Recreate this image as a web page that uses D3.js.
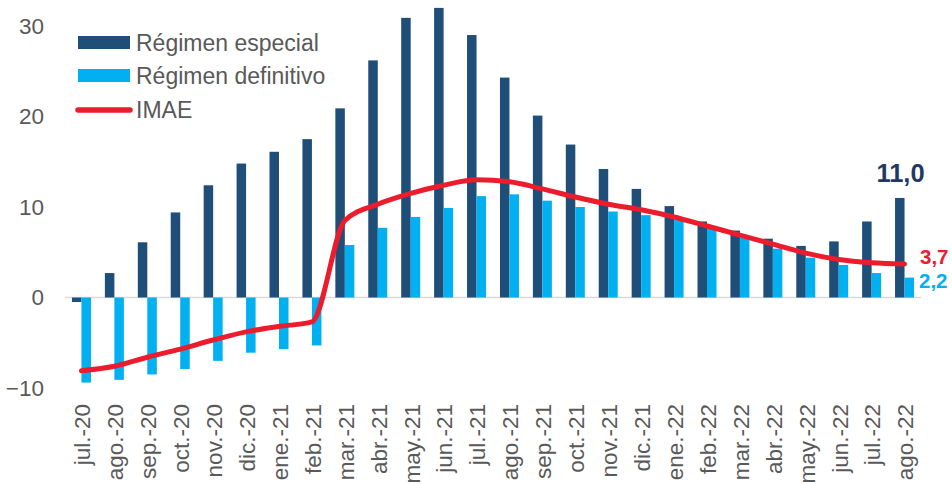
<!DOCTYPE html>
<html>
<head>
<meta charset="utf-8">
<script src="https://cdn.jsdelivr.net/npm/d3@7/dist/d3.min.js"></script>
<style>
  html, body { margin: 0; padding: 0; background: #fff; }
  svg { display: block; font-family: "Liberation Sans", Arial, sans-serif; }
</style>
</head>
<body>
<svg id="chart" width="952" height="484"></svg>
<script>
const categories = ["jul.-20","ago.-20","sep.-20","oct.-20","nov.-20","dic.-20","ene.-21","feb.-21","mar.-21","abr.-21","may.-21","jun.-21","jul.-21","ago.-21","sep.-21","oct.-21","nov.-21","dic.-21","ene.-22","feb.-22","mar.-22","abr.-22","may.-22","jun.-22","jul.-22","ago.-22"];
const especial = [-0.5, 2.7, 6.1, 9.4, 12.4, 14.8, 16.1, 17.5, 20.9, 26.2, 30.9, 32.0, 29.0, 24.3, 20.1, 16.9, 14.2, 12.0, 10.1, 8.4, 7.4, 6.5, 5.7, 6.2, 8.4, 11.0];
const definitivo = [-9.4, -9.1, -8.5, -7.9, -7.0, -6.1, -5.7, -5.3, 5.8, 7.7, 8.9, 9.9, 11.2, 11.4, 10.7, 10.0, 9.5, 9.1, 8.6, 7.8, 6.6, 5.4, 4.4, 3.6, 2.7, 2.2];
const imae = [-8.1, -7.6, -6.6, -5.7, -4.7, -3.8, -3.2, -2.7, 8.5, 10.3, 11.5, 12.4, 13.0, 12.8, 12.0, 11.1, 10.3, 9.7, 8.9, 7.9, 6.9, 5.9, 4.9, 4.2, 3.85, 3.7];
const yTicks = [-10, 0, 10, 20, 30];
const seriesNames = ["Régimen especial", "Régimen definitivo", "IMAE"];
const endLabels = ["11,0", "3,7", "2,2"];

const colDark = "#1f4e79", colLight = "#00b0f0", colRed = "#ec1c2d";
const svg = d3.select("#chart");

const x = d3.scaleBand().domain(categories).range([65, 921]).padding(0);
const y = d3.scaleLinear().domain([-10, 30]).range([388, 26]);
const barW = 9.5;

// zero axis line
svg.append("line")
  .attr("x1", 65).attr("x2", 921)
  .attr("y1", y(0)).attr("y2", y(0))
  .attr("stroke", "#d9d9d9").attr("stroke-width", 1.5);

// y axis labels
const yAxis = d3.axisLeft(y).tickValues(yTicks).tickSize(0).tickPadding(0).tickFormat(d3.format("d"));
const ya = svg.append("g").attr("transform", "translate(44,0)").call(yAxis);
ya.select(".domain").remove();
ya.selectAll("text").attr("fill", "#595959").attr("font-size", 22.5).style("font-family", "Liberation Sans, Arial, sans-serif");

// x axis labels
const xAxis = d3.axisBottom(x).tickSize(0).tickPadding(0);
const xa = svg.append("g").call(xAxis);
xa.select(".domain").remove();
xa.selectAll("text")
  .attr("fill", "#595959").attr("font-size", 22.5)
  .style("font-family", "Liberation Sans, Arial, sans-serif")
  .attr("text-anchor", "end")
  .attr("dy", "0.35em")
  .attr("transform", "translate(1,404) rotate(-90)")
  .attr("x", 0).attr("y", 0);

const cx = d => x(d) + x.bandwidth() / 2;

// bars
svg.append("g").selectAll("rect").data(categories).join("rect")
  .attr("x", d => cx(d) - barW)
  .attr("width", barW)
  .attr("y", (d, i) => y(Math.max(0, especial[i])))
  .attr("height", (d, i) => Math.abs(y(especial[i]) - y(0)))
  .attr("fill", colDark);

svg.append("g").selectAll("rect").data(categories).join("rect")
  .attr("x", d => cx(d))
  .attr("width", barW)
  .attr("y", (d, i) => y(Math.max(0, definitivo[i])))
  .attr("height", (d, i) => Math.abs(y(definitivo[i]) - y(0)))
  .attr("fill", colLight);

// IMAE line
const line = d3.line().x((d, i) => cx(categories[i])).y(d => y(d)).curve(d3.curveMonotoneX);
svg.append("path").datum(imae)
  .attr("d", line)
  .attr("fill", "none").attr("stroke", colRed).attr("stroke-width", 5)
  .attr("stroke-linecap", "round").attr("stroke-linejoin", "round");

// end labels
const last = categories.length - 1;
svg.append("text").attr("x", cx(categories[last]) - 4).attr("y", 182)
  .attr("text-anchor", "middle").attr("font-size", 25.5).attr("font-weight", "bold")
  .attr("fill", "#1f3864").text(endLabels[0]);
svg.append("text").attr("x", 920).attr("y", 264)
  .attr("font-size", 20.5).attr("font-weight", "bold")
  .attr("fill", colRed).text(endLabels[1]);
svg.append("text").attr("x", 919).attr("y", 287.5)
  .attr("font-size", 20.5).attr("font-weight", "bold")
  .attr("fill", colLight).text(endLabels[2]);

// legend
const lg = svg.append("g");
const rows = [42.5, 75.5, 110];
lg.append("rect").attr("x", 78).attr("y", rows[0] - 6.5).attr("width", 52).attr("height", 13).attr("fill", colDark);
lg.append("rect").attr("x", 78).attr("y", rows[1] - 6.5).attr("width", 52).attr("height", 13).attr("fill", colLight);
lg.append("line").attr("x1", 78).attr("x2", 130).attr("y1", rows[2]).attr("y2", rows[2])
  .attr("stroke", colRed).attr("stroke-width", 5.5).attr("stroke-linecap", "round");
seriesNames.forEach((n, i) => {
  lg.append("text").attr("x", 136).attr("y", rows[i]).attr("dy", "0.35em")
    .attr("font-size", 23).attr("fill", "#595959").text(n);
});
</script>
</body>
</html>
